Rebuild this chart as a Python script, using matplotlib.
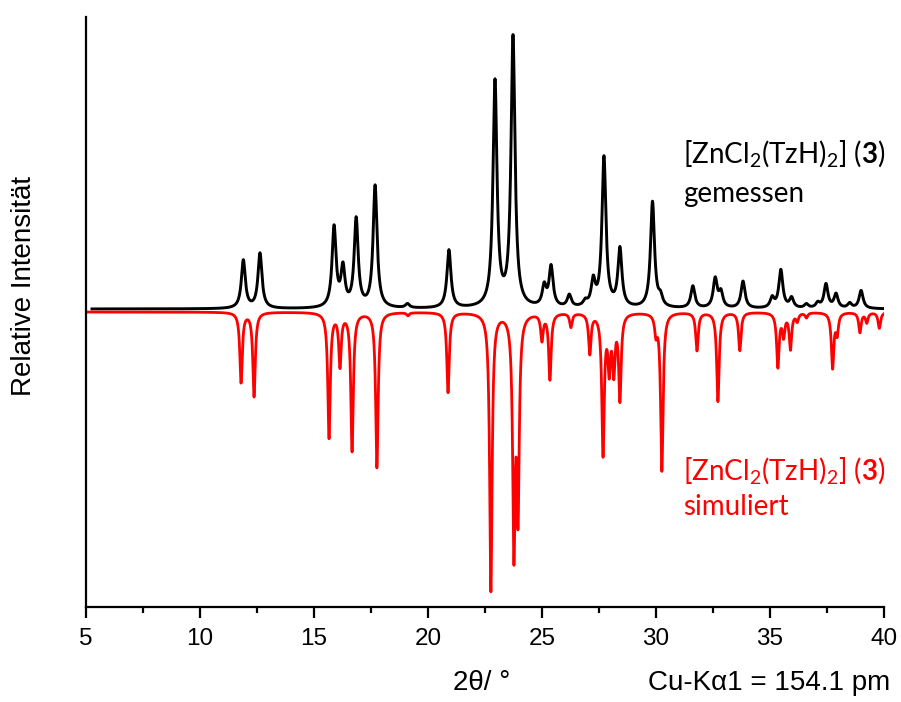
import numpy as np
import matplotlib.pyplot as plt

plt.rcParams['mathtext.fontset'] = 'custom'
plt.rcParams['mathtext.rm'] = 'Lato'
plt.rcParams['mathtext.bf'] = 'Lato:bold'

meas_pos = [11.9, 12.63, 15.88, 16.27, 16.85, 17.68, 19.1, 20.92, 22.94, 23.73,
            25.1, 25.4, 26.2, 26.9, 27.25, 27.72, 28.42, 29.85, 30.2, 31.62,
            32.6, 32.85, 33.82, 35.1, 35.48, 35.95, 36.6, 37.1, 37.46, 37.9,
            38.5, 39.0]
meas_int = [48, 55, 80, 38, 88, 122, 4, 58, 225, 270,
            20, 40, 12, 5, 25, 150, 58, 106, 9, 22,
            29, 15, 27, 10, 38, 10, 4, 5, 24, 14,
            5, 18]
meas_fwhm = 0.21

# simulated pattern (plotted downward)
sim_pos = [11.8, 12.37, 15.66, 16.14, 16.67, 17.76, 19.12, 20.88, 22.76, 23.77,
           23.95, 25.0, 25.35, 26.27, 27.1, 27.68, 27.95, 28.15, 28.42, 30.0,
           30.26, 31.8, 32.72, 33.68, 35.35, 35.6, 35.9, 36.2, 36.6, 37.75,
           37.95, 38.95, 39.25, 39.8]
sim_int = [70, 84, 125, 52, 138, 155, 3, 80, 278, 230,
           190, 26, 66, 14, 40, 140, 52, 55, 85, 18,
           158, 38, 89, 38, 54, 22, 36, 8, 5, 55,
           20, 20, 10, 16]
sim_fwhm = 0.13


def pattern(x, pos, hgt, fwhm):
    g = fwhm / 2
    y = np.zeros_like(x)
    for p, h in zip(pos, hgt):
        y += h * g**2 / ((x - p)**2 + g**2)
    return y


x_meas = np.linspace(5.26, 40, 6000)
x_sim = np.linspace(5.0, 40, 6000)
y_meas = 2 + pattern(x_meas, meas_pos, meas_int, meas_fwhm)
y_sim = -1 - pattern(x_sim, sim_pos, sim_int, sim_fwhm)

fig = plt.figure(figsize=(9.01, 7.02), dpi=100)
ax = fig.add_axes([0.0955, 0.1353, 0.8855, 0.8405])
ax.plot(x_meas, y_meas, color='black', lw=2.1)
ax.plot(x_sim, y_sim, color='red', lw=2.0)

ax.set_xlim(5, 40)
ax.set_ylim(-296, 294)
ax.set_yticks([])
ax.spines['top'].set_visible(False)
ax.spines['right'].set_visible(False)
ax.spines['left'].set_linewidth(1.6)
ax.spines['bottom'].set_linewidth(1.6)
ax.set_xticks(range(5, 41, 5))
ax.set_xticks(np.arange(7.5, 40, 5), minor=True)
ax.tick_params(axis='x', which='major', length=8, width=1.6, pad=7)
ax.tick_params(axis='x', which='minor', length=4, width=1.6)
for lab in ax.get_xticklabels():
    lab.set_family('Liberation Sans')
    lab.set_fontsize(17.5)

fig.text(0.0266, 0.593, 'Relative Intensität', rotation=90, ha='center', va='center',
         fontsize=20, family='Liberation Sans')
fig.text(0.503, 0.017, '2θ/ °', ha='left', va='baseline',
         fontsize=20, family='Liberation Sans')
fig.text(0.988, 0.017, 'Cu-Kα1 = 154.1 pm', ha='right', va='baseline',
         fontsize=20, family='Liberation Sans')

label = r'[ZnCl$_2$(TzH)$_2$] ($\mathbf{3}$)'
fig.text(0.758, 0.768, label, fontsize=20, family='Lato', color='black', va='baseline')
fig.text(0.758, 0.712, 'gemessen', fontsize=20, family='Lato', color='black', va='baseline')
fig.text(0.758, 0.316, label, fontsize=20, family='Lato', color='red', va='baseline')
fig.text(0.758, 0.266, 'simuliert', fontsize=20, family='Lato', color='red', va='baseline')

fig.savefig('out.png', dpi=100)
